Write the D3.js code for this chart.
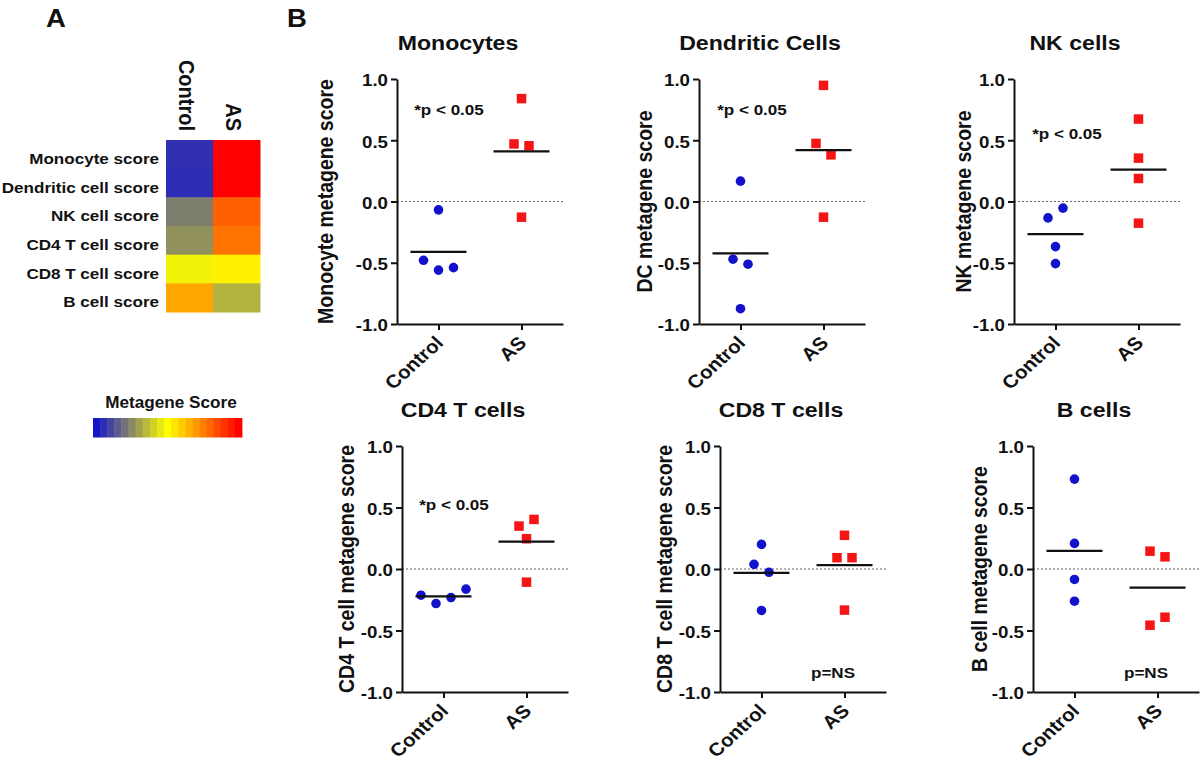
<!DOCTYPE html>
<html>
<head>
<meta charset="utf-8">
<script src="https://cdn.jsdelivr.net/npm/d3@7"></script>
<style>
  body { margin: 0; background: #fff; }
  svg text { font-family: "Liberation Sans", Arial, Helvetica, sans-serif; font-weight: bold; fill: #111; }
</style>
</head>
<body>
<svg id="chart" width="1200" height="761"></svg>
<script>
// ---- data ----
const groups = ["Control", "AS"];

const panelTitles = ["Monocytes", "Dendritic Cells", "NK cells", "CD4 T cells", "CD8 T cells", "B cells"];
const yLabels = [
  "Monocyte metagene score", "DC metagene score", "NK metagene score",
  "CD4 T cell metagene score", "CD8 T cell metagene score", "B cell metagene score"
];

// one row per panel, 4 subjects per group
const controlScores = [
  [-0.068, -0.48, -0.56, -0.54],
  [0.166, -0.471, -0.512, -0.875],
  [-0.134, -0.054, -0.368, -0.507],
  [-0.213, -0.281, -0.232, -0.164],
  [0.20, 0.038, -0.027, -0.337],
  [0.731, 0.208, -0.085, -0.262]
];
const asScores = [
  [0.84, 0.47, 0.455, -0.128],
  [0.948, 0.474, 0.381, -0.128],
  [0.673, 0.354, 0.188, -0.177],
  [0.349, 0.403, 0.246, -0.107],
  [0.274, 0.092, 0.092, -0.334],
  [0.145, 0.099, -0.457, -0.392]
];

const pLabels = ["*p < 0.05", "*p < 0.05", "*p < 0.05", "*p < 0.05", "p=NS", "p=NS"];
const pLabelY = [0.71, 0.71, 0.51, 0.48, -0.89, -0.89];   // baseline, in score units

const yTicks = [-1, -0.5, 0, 0.5, 1];

// heatmap (panel A)
const heatRows = ["Monocyte score", "Dendritic cell score", "NK cell score", "CD4 T cell score", "CD8 T cell score", "B cell score"];
const heatControl = [-0.44, -0.45, -0.275, -0.235, -0.025, 0.175];
const heatAS = [0.5, 0.5, 0.31, 0.275, 0.025, -0.16];
const legendStops = [-0.5, -0.45, -0.4, -0.35, -0.3, -0.25, -0.2, -0.15, -0.1, -0.05, 0,
                     0.05, 0.1, 0.15, 0.2, 0.25, 0.3, 0.35, 0.4, 0.45, 0.5];

// ---- layout ----
const panelLeft = [397, 699, 1014, 402, 720, 1033];
const panelW = 166;
const rowRange = [[324, 79], [692, 446]];
const titleY = [49.5, 416.5];
const yLabelGap = [64, 47, 43, 48, 48, 46];
const pLabelDx = [52, 53, 53, 52, 113, 113];

const SX = 1.1; // the source figure is a bit stretched horizontally
const stretch = (x, y, rot) => `translate(${x},${y}) scale(${SX},1)` + (rot ? ` rotate(${rot})` : "");

const blue = "#1212cc", red = "#f51515";

const svg = d3.select("#chart");

// panel letters
svg.append("text").attr("transform", stretch(56, 27)).attr("text-anchor", "middle")
  .style("font-size", "25px").text("A");
svg.append("text").attr("transform", stretch(297, 27)).attr("text-anchor", "middle")
  .style("font-size", "25px").text("B");

// ---- heatmap ----
const heatColor = d3.scaleLinear().domain([-0.5, 0, 0.5])
  .range(["#1414c8", "#ffff00", "#ff0000"]).clamp(true);

const hx = d3.scaleBand().domain(groups).range([166, 260]);
const hy = d3.scaleBand().domain(heatRows).range([140, 312]);

const heatCells = heatRows.flatMap((r, i) => [
  { row: r, group: "Control", v: heatControl[i] },
  { row: r, group: "AS", v: heatAS[i] }
]);

const hm = svg.append("g");
hm.selectAll("rect").data(heatCells).join("rect")
  .attr("x", d => hx(d.group))
  .attr("y", d => hy(d.row))
  .attr("width", hx.bandwidth() + 0.5)
  .attr("height", hy.bandwidth() + 0.5)
  .attr("fill", d => heatColor(d.v));

hm.selectAll("text.row").data(heatRows).join("text")
  .attr("class", "row")
  .attr("transform", d => stretch(159, hy(d) + hy.bandwidth() / 2 + 9.5))
  .attr("text-anchor", "end")
  .style("font-size", "15.5px")
  .text(d => d);

hm.selectAll("text.col").data(groups).join("text")
  .attr("class", "col")
  .attr("transform", d => stretch(hx(d) + hx.bandwidth() / 2 - 10.5, 131, 90))
  .attr("text-anchor", "end")
  .style("font-size", "20px")
  .text(d => d);

// legend
svg.append("text").attr("transform", stretch(171, 408)).attr("text-anchor", "middle")
  .style("font-size", "15.6px").text("Metagene Score");

const lx = d3.scaleBand().domain(legendStops).range([93, 242]);
svg.append("g").selectAll("rect").data(legendStops).join("rect")
  .attr("x", d => lx(d))
  .attr("y", 418)
  .attr("width", lx.bandwidth() + 0.4)
  .attr("height", 19.5)
  .attr("fill", d => heatColor(d));

// ---- dot plots ----
// spread points that sit on top of each other (gap < 12px) side by side
function jitter(vals, y) {
  const idx = d3.range(vals.length).sort((a, b) => vals[b] - vals[a]);
  const off = new Array(vals.length).fill(0);
  let cluster = [idx[0]];
  const flush = () => {
    cluster.sort((a, b) => a - b);
    cluster.forEach((k, j) => { off[k] = (j - (cluster.length - 1) / 2) * 15; });
  };
  for (let j = 1; j < idx.length; j++) {
    if (Math.abs(y(vals[idx[j]]) - y(vals[idx[j - 1]])) < 12) cluster.push(idx[j]);
    else { flush(); cluster = [idx[j]]; }
  }
  flush();
  return off;
}

panelTitles.forEach((title, i) => {
  const left = panelLeft[i];
  const row = i < 3 ? 0 : 1;
  const y = d3.scaleLinear().domain([-1, 1]).range(rowRange[row]);
  const x = d3.scalePoint().domain(groups).range([left, left + panelW]).padding(0.5);
  const g = svg.append("g");

  // zero reference line
  g.append("line")
    .attr("x1", left).attr("x2", left + panelW)
    .attr("y1", y(0)).attr("y2", y(0))
    .attr("stroke", "#666").attr("stroke-width", 1.2)
    .attr("stroke-dasharray", "2,2");

  // y axis (plain hyphen minus, like the figure)
  const ya = g.append("g").attr("transform", `translate(${left},0)`)
    .call(d3.axisLeft(y).tickValues(yTicks).tickFormat(d => d.toFixed(1))
      .tickSize(6).tickSizeOuter(0));
  ya.selectAll("text")
    .attr("x", null).attr("dy", "0.4em")
    .attr("transform", stretch(-9, 0))
    .style("font-size", "17px");

  // x axis
  const xa = g.append("g").attr("transform", `translate(0,${y(-1)})`)
    .call(d3.axisBottom(x).tickSize(6).tickSizeOuter(0).tickFormat(""));
  [ya, xa].forEach(a => {
    a.select(".domain").attr("stroke", "#111").attr("stroke-width", 2);
    a.selectAll(".tick line").attr("stroke", "#111").attr("stroke-width", 2);
  });

  g.selectAll("text.xlab").data(groups).join("text")
    .attr("class", "xlab")
    .attr("transform", d => stretch(x(d) + 6, y(-1) + 20, -45))
    .attr("text-anchor", "end")
    .style("font-size", "18.5px")
    .text(d => d);

  // title and y label
  g.append("text")
    .attr("transform", stretch(left + 61, titleY[row]))
    .attr("text-anchor", "middle")
    .style("font-size", "21px")
    .text(title);

  g.append("text")
    .attr("transform", stretch(left - yLabelGap[i], y(0), -90))
    .attr("text-anchor", "middle")
    .style("font-size", "19.5px")
    .text(yLabels[i]);

  // significance note
  g.append("text")
    .attr("transform", stretch(left + pLabelDx[i], y(pLabelY[i])))
    .attr("text-anchor", "middle")
    .style("font-size", "15.5px")
    .text(pLabels[i]);

  // points
  const ctrl = controlScores[i], as = asScores[i];
  const jc = jitter(ctrl, y), ja = jitter(as, y);

  g.selectAll("circle").data(ctrl).join("circle")
    .attr("cx", (d, k) => x("Control") + jc[k])
    .attr("cy", d => y(d))
    .attr("r", 4.8)
    .attr("fill", blue);

  const sq = 9.5;
  g.selectAll("rect.as").data(as).join("rect")
    .attr("class", "as")
    .attr("x", (d, k) => x("AS") + ja[k] - sq / 2)
    .attr("y", d => y(d) - sq / 2)
    .attr("width", sq).attr("height", sq)
    .attr("fill", red);

  // group means
  const means = [{ g: "Control", m: d3.mean(ctrl) }, { g: "AS", m: d3.mean(as) }];
  g.selectAll("line.mean").data(means).join("line")
    .attr("class", "mean")
    .attr("x1", d => x(d.g) - 28).attr("x2", d => x(d.g) + 28)
    .attr("y1", d => y(d.m)).attr("y2", d => y(d.m))
    .attr("stroke", "#111").attr("stroke-width", 2.2);
});
</script>
</body>
</html>
